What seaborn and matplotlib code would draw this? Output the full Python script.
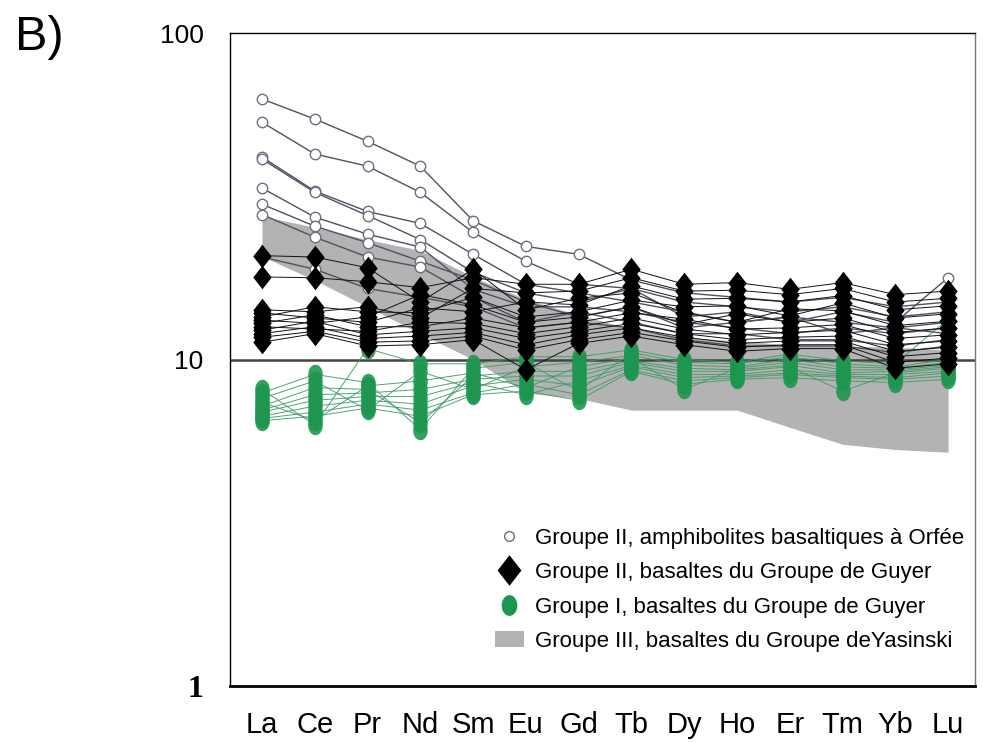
import numpy as np
import pandas as pd
import matplotlib
matplotlib.use("Agg")
import matplotlib.pyplot as plt
from matplotlib.lines import Line2D
from matplotlib.patches import Patch
import seaborn as sns

elements = ["La", "Ce", "Pr", "Nd", "Sm", "Eu", "Gd", "Tb", "Dy", "Ho", "Er", "Tm", "Yb", "Lu"]

# Groupe II, amphibolites basaltiques a Orfee (open circles)
orfee = [
    [62.8, 54.5, 46.6, 39.1, 26.6, 22.2, 21.0, 17.5, 16.0, 15.5, 15.0, 15.5, 14.5, 15.0],
    [53.3, 42.6, 39.1, 32.5, 24.5, 20.0, 17.0, 16.5, 15.0, 14.5, 14.0, 14.5, 13.5, 14.0],
    [41.7, 32.8, 28.4, 26.1, 21.0, 17.0, 16.0, 15.0, 14.0, 13.0, 13.5, 13.0, 12.5, 13.0],
    [41.1, 32.5, 27.6, 23.3, 18.5, 16.0, 15.0, 16.5, 13.5, 14.0, 13.0, 14.0, 13.0, 17.8],
    [33.5, 27.3, 24.2, 22.1, 16.4, 14.5, 14.5, 14.0, 13.0, 12.5, 12.0, 12.5, 12.0, 12.5],
    [29.9, 25.6, 22.8, 20.0, 17.5, 15.0, 13.5, 14.5, 12.5, 13.0, 13.5, 12.0, 12.5, 12.0],
    [27.8, 23.7, 20.6, 19.2, 15.5, 13.0, 14.0, 13.0, 12.0, 12.0, 11.5, 11.5, 11.0, 11.5],
    [20.6, 18.9, 16.5, 15.5, 14.5, 12.5, 13.0, 12.5, 11.5, 11.0, 11.0, 11.0, 10.5, 11.0],
]

# Groupe II, basaltes du Groupe de Guyer (black diamonds)
guyer2 = [
    [20.8, 20.6, 19.1, 15.0, 18.9, 14.2, 15.4, 16.0, 13.9, 13.0, 14.3, 14.1, 12.7, 13.1],
    [17.9, 17.8, 17.3, 16.6, 17.8, 17.0, 17.0, 18.9, 17.0, 17.2, 16.4, 17.2, 15.8, 16.2],
    [14.2, 14.0, 14.5, 13.4, 16.5, 16.0, 16.2, 17.8, 16.2, 16.3, 15.8, 16.5, 15.0, 15.4],
    [13.9, 13.4, 13.0, 14.4, 14.0, 15.0, 14.7, 16.8, 15.3, 15.4, 15.0, 15.7, 14.2, 14.6],
    [13.5, 14.5, 14.0, 13.9, 15.5, 13.5, 14.0, 15.2, 14.5, 14.6, 13.6, 14.9, 13.4, 13.8],
    [13.2, 12.9, 13.5, 15.8, 14.7, 13.0, 13.5, 14.5, 12.8, 13.8, 13.0, 13.4, 12.1, 12.5],
    [12.9, 13.7, 12.6, 12.6, 13.4, 12.5, 13.0, 13.9, 13.3, 12.4, 12.5, 12.8, 11.6, 11.9],
    [12.6, 12.4, 12.2, 13.0, 12.9, 12.0, 12.6, 13.4, 12.4, 11.9, 12.1, 12.3, 11.1, 11.4],
    [12.3, 13.1, 11.9, 12.2, 12.5, 11.6, 12.2, 12.9, 12.0, 11.5, 11.7, 11.8, 10.6, 10.9],
    [12.0, 12.6, 11.6, 11.8, 12.1, 11.1, 11.9, 12.5, 11.7, 11.2, 11.4, 11.4, 10.2, 10.5],
    [11.7, 12.2, 11.3, 11.4, 11.8, 10.7, 11.5, 12.1, 11.4, 10.9, 11.1, 11.1, 9.8, 10.1],
    [11.3, 12.0, 11.0, 11.1, 11.5, 9.3, 11.2, 11.8, 11.1, 10.6, 10.8, 10.8, 9.4, 9.7],
]

# Groupe I, basaltes du Groupe de Guyer (green)
guyer1 = [
    [8.1, 6.3, 10.8, 9.7, 9.7, 10.2, 10.2, 10.7, 10.0, 9.8, 10.4, 9.9, 9.7, 13.3],
    [7.9, 9.0, 8.5, 6.1, 9.4, 9.8, 8.0, 10.5, 9.8, 9.7, 10.2, 9.7, 9.5, 10.0],
    [7.6, 8.6, 7.0, 9.2, 8.1, 9.5, 9.8, 10.3, 9.6, 9.5, 10.0, 9.5, 9.4, 9.8],
    [7.4, 6.5, 8.3, 8.6, 9.1, 8.2, 9.5, 10.1, 8.1, 9.4, 9.8, 9.3, 9.3, 9.6],
    [7.2, 8.2, 8.1, 6.4, 8.9, 9.2, 9.2, 9.9, 9.4, 9.3, 9.6, 9.1, 9.2, 9.5],
    [7.0, 7.8, 7.9, 8.1, 8.7, 8.9, 8.9, 9.8, 9.2, 9.2, 9.5, 8.0, 9.1, 9.4],
    [6.9, 7.5, 7.7, 7.7, 8.5, 7.8, 8.6, 9.6, 9.0, 9.0, 9.3, 9.0, 9.0, 9.2],
    [6.7, 7.2, 7.5, 7.3, 8.3, 8.7, 8.3, 9.5, 8.8, 8.9, 9.1, 8.9, 8.8, 9.1],
    [6.6, 6.9, 7.3, 7.0, 7.9, 8.4, 7.8, 9.3, 8.6, 8.8, 9.0, 8.8, 8.7, 8.9],
    [6.5, 6.7, 7.1, 6.7, 7.8, 8.0, 7.5, 9.2, 8.4, 8.7, 8.8, 8.6, 8.5, 8.7],
]

# Groupe III, basaltes du Groupe de Yasinski (grey field)
yasinski_top = [27.5, 25.4, 23.3, 21.6, 17.9, 15.3, 13.7, 12.4, 11.7, 11.4, 11.1, 11.0, 10.9, 10.7]
yasinski_bottom = [20.7, 17.5, 14.5, 12.0, 10.0, 7.9, 7.6, 7.0, 7.0, 7.0, 6.2, 5.5, 5.3, 5.2]

legend_labels = [
    "Groupe II, amphibolites basaltiques à Orfée",
    "Groupe II, basaltes du Groupe de Guyer",
    "Groupe I, basaltes du Groupe de Guyer",
    "Groupe III, basaltes du Groupe deYasinski",
]


def to_long(rows):
    recs = []
    for s, row in enumerate(rows):
        for i, v in enumerate(row):
            recs.append({"sample": s, "x": i, "value": v})
    return pd.DataFrame(recs)


sns.set_style("white")
plt.rcParams["font.family"] = ["Liberation Sans", "DejaVu Sans"]
plt.rcParams["text.color"] = "black"
plt.rcParams["xtick.color"] = "black"
plt.rcParams["ytick.color"] = "black"

# custom marker shapes
diamond = [(0, 1), (0.78, 0), (0, -1), (-0.78, 0), (0, 1)]
t = np.linspace(0, 2 * np.pi, 40)
ellipse = list(zip(0.75 * np.cos(t), np.sin(t)))

fig = plt.figure(figsize=(9.83, 7.43), dpi=100)
ax = fig.add_axes([230 / 983, 1 - 686 / 743, 745 / 983, 653 / 743])

x = np.arange(len(elements))
ax.fill_between(x, yasinski_bottom, yasinski_top, color="#b3b3b3", lw=0, zorder=1)
ax.axhline(10, color="#444444", lw=1.8, zorder=2)

sns.lineplot(data=to_long(guyer1), x="x", y="value", units="sample", estimator=None,
             color="#3f9a63", lw=0.7, alpha=0.9, marker=ellipse, markersize=14,
             markerfacecolor="#1e9650", markeredgecolor="#1e9650", markeredgewidth=0,
             legend=False, ax=ax, zorder=3)
sns.lineplot(data=to_long(orfee), x="x", y="value", units="sample", estimator=None,
             color="#4d5263", lw=1.0, marker="o", markersize=7.5,
             markerfacecolor="white", markeredgecolor="#6b7080", markeredgewidth=1.0,
             legend=False, ax=ax, zorder=4)
sns.lineplot(data=to_long(guyer2), x="x", y="value", units="sample", estimator=None,
             color="#111111", lw=0.7, marker=diamond, markersize=17,
             markerfacecolor="black", markeredgecolor="black", markeredgewidth=0,
             legend=False, ax=ax, zorder=5)

ax.set_yscale("log")
ax.set_ylim(1, 100)
ax.set_xlim(-0.606, 13.51)
ax.set_xticks(x)
ax.set_xticklabels(elements, fontsize=21)
ax.set_yticks([1, 10, 100])
ax.set_yticklabels(["1", "10", "100"], fontsize=19)
ax.yaxis.set_minor_locator(matplotlib.ticker.NullLocator())
ax.tick_params(axis="both", length=0)
ax.tick_params(axis="x", pad=18)
ax.tick_params(axis="y", pad=19)
lab1 = ax.get_yticklabels()[0]
lab1.set_fontfamily(["Liberation Serif", "DejaVu Serif"])
lab1.set_fontweight("bold")
lab1.set_fontsize(23)
ax.set_xlabel("")
ax.set_ylabel("")

for side in ["left", "top"]:
    ax.spines[side].set_color("black")
    ax.spines[side].set_linewidth(1.0)
ax.spines["bottom"].set_color("black")
ax.spines["bottom"].set_linewidth(2.0)
ax.spines["right"].set_color("#777777")
ax.spines["right"].set_linewidth(1.0)

handles = [
    Line2D([], [], ls="none", marker="o", markersize=7, markerfacecolor="white",
           markeredgecolor="#6b7080", markeredgewidth=1.0),
    Line2D([], [], ls="none", marker=diamond, markersize=22, markerfacecolor="black",
           markeredgewidth=0),
    Line2D([], [], ls="none", marker=ellipse, markersize=15, markerfacecolor="#1e9650",
           markeredgewidth=0),
    Patch(facecolor="#b3b3b3", edgecolor="none"),
]
ax.legend(handles, legend_labels, loc="lower right", frameon=False, fontsize=16,
          bbox_to_anchor=(975 / 983, 1 - 663 / 743), bbox_transform=fig.transFigure,
          borderpad=0, labelspacing=0.6, handlelength=1.3, handletextpad=0.5)

fig.text(15 / 983, 1 - 50 / 743, "B)", fontsize=35, va="baseline", ha="left")

fig.savefig("out.png", dpi=100)
